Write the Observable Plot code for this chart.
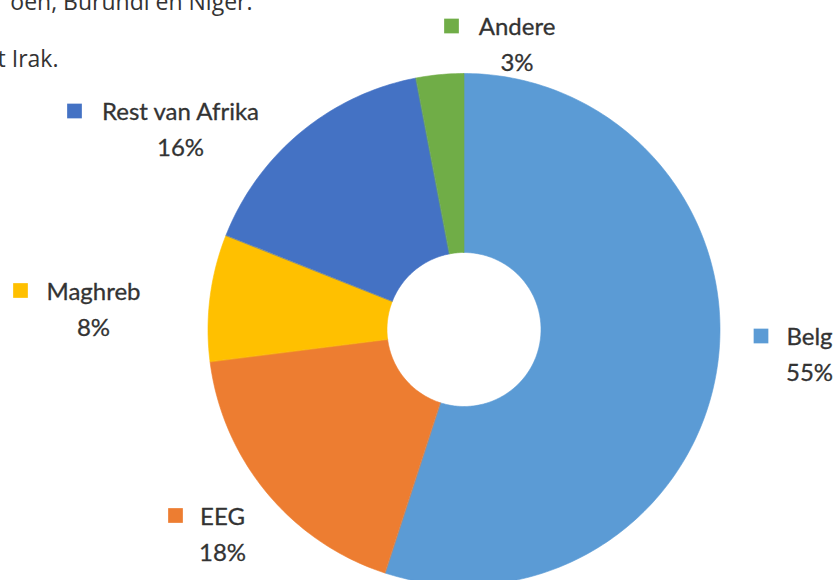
<!DOCTYPE html>
<html><head><meta charset="utf-8">
<script src="https://cdn.jsdelivr.net/npm/d3@7"></script>
<script src="https://cdn.jsdelivr.net/npm/@observablehq/plot@0.6"></script>
<style>html,body{margin:0;padding:0;background:#fff;overflow:hidden}</style>
</head><body><div id="chart"></div>
<script>
// ---- data ----
const categories = ["Belg", "EEG", "Maghreb", "Rest van Afrika", "Andere"];
const shares = [55, 18, 8, 16, 3];
const colors = ["#5B9BD5", "#ED7D31", "#FFC000", "#4472C4", "#70AD47"];
const pageLines = ["oen, Burundi en Niger.", "t Irak."];

// ---- layout (not data) ----
const W = 838, H = 580;
const cx = 463.5, cy = 329, rOuter = 256, rInner = 77;
const labelLayout = {
  "Belg":            {sx: 760.5, sy: 335.5, tx: 809},
  "EEG":             {sx: 175,   sy: 515,   tx: 222},
  "Maghreb":         {sx: 20,    sy: 290,   tx: 93},
  "Rest van Afrika": {sx: 74,    sy: 110.5, tx: 180},
  "Andere":          {sx: 451,   sy: 25.5,  tx: 516.5}
};
const pageLayout = [{x: 252, y: 9}, {x: 58, y: 66}];

// ---- geometry from data via d3.pie ----
const rows = categories.map((name, i) => ({name, value: shares[i]}));
const arcs = d3.pie().value(d => d.value).sort(null).startAngle(0).endAngle(2 * Math.PI)(rows);
const slicePts = [];
for (const a of arcs) {
  const n = Math.max(4, Math.ceil((a.endAngle - a.startAngle) / (Math.PI / 180)));
  for (let k = 0; k <= n; k++) {
    const t = a.startAngle + (a.endAngle - a.startAngle) * k / n;
    slicePts.push({name: a.data.name, x: cx + rOuter * Math.sin(t), y: cy - rOuter * Math.cos(t)});
  }
  for (let k = n; k >= 0; k--) {
    const t = a.startAngle + (a.endAngle - a.startAngle) * k / n;
    slicePts.push({name: a.data.name, x: cx + rInner * Math.sin(t), y: cy - rInner * Math.cos(t)});
  }
}
const labels = rows.map(d => ({...d, ...labelLayout[d.name], pct: d.value + "%"}));
const page = pageLines.map((t, i) => ({text: t, ...pageLayout[i]}));

const font = "Lato, 'Open Sans', sans-serif";
const chart = Plot.plot({
  width: W, height: H, margin: 0,
  style: {background: "#fff"},
  x: {domain: [0, W], range: [0, W], axis: null},
  y: {domain: [0, H], range: [0, H], axis: null},
  color: {domain: categories, range: colors},
  marks: [
    Plot.line(slicePts, {x: "x", y: "y", z: "name", fill: "name", stroke: "name", strokeWidth: 0.6, curve: "linear-closed"}),
    Plot.dot(labels, {x: "sx", y: "sy", fill: "name", symbol: "square", r: 8.3, stroke: null}),
    Plot.text(labels, {x: "tx", y: d => d.sy + 9, text: "name", textAnchor: "middle", lineAnchor: "bottom", fontSize: 24, fontFamily: font, fill: "#333", stroke: "#333", strokeWidth: 0.3}),
    Plot.text(labels, {x: "tx", y: d => d.sy + 45, text: "pct", textAnchor: "middle", lineAnchor: "bottom", fontSize: 24, fontFamily: font, fill: "#333", stroke: "#333", strokeWidth: 0.3}),
    Plot.text(page, {x: "x", y: "y", text: "text", textAnchor: "end", lineAnchor: "bottom", fontSize: 23, fontFamily: "'Open Sans', sans-serif", fill: "#333"})
  ]
});
document.getElementById("chart").appendChild(chart);
</script>
</body></html>
